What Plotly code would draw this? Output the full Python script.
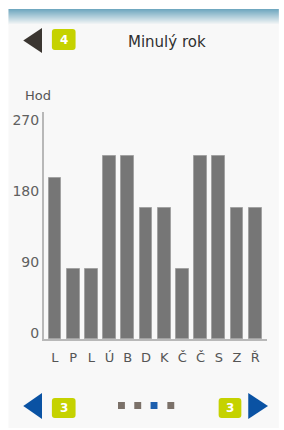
import plotly.graph_objects as go

# ---- data ----
months = ["L", "P", "L", "Ú", "B", "D", "K", "Č", "Č", "S", "Z", "Ř"]
hours = [204, 89, 89, 232, 232, 166, 166, 89, 232, 232, 166, 166]
y_ticks = [0, 90, 180, 270]
title_text = "Minulý rok"
unit_text = "Hod"
page_prev = "4"
page_nav = "3"

W, H = 284, 430
L, R, T, B = 41, 267, 112, 339  # plot area in pixels


def px(x):
    return (x - L) / (R - L)


def py(y):
    return (B - y) / (B - T)


fig = go.Figure()
fig.add_trace(go.Bar(
    x=list(range(len(months))), y=hours, width=0.70,
    marker=dict(color="#767676", line=dict(color="#a2a2a2", width=1)),
    hoverinfo="skip",
))

shapes = []
# panel background
shapes.append(dict(type="rect", xref="paper", yref="paper", layer="below",
                   x0=px(5), x1=px(279), y0=py(428), y1=py(9),
                   fillcolor="#f8f8f8", line=dict(width=0)))
# top gradient band
top_c = (112, 168, 192)
end_c = (248, 248, 248)
n = 16
for i in range(n):
    t = i / (n - 1)
    c = tuple(int(top_c[k] + (end_c[k] - top_c[k]) * t) for k in range(3))
    y0 = 9 + i * 1.0
    shapes.append(dict(type="rect", xref="paper", yref="paper", layer="below",
                       x0=px(5), x1=px(279), y0=py(y0 + 1.05), y1=py(y0),
                       fillcolor="rgb(%d,%d,%d)" % c, line=dict(width=0)))


def tri(xa, xb, ya, yb, pointing_left, color):
    if pointing_left:
        pts = [(xa, (ya + yb) / 2), (xb, ya), (xb, yb)]
    else:
        pts = [(xb, (ya + yb) / 2), (xa, ya), (xa, yb)]
    path = "M " + " L ".join("%f,%f" % (px(a), py(b)) for a, b in pts) + " Z"
    return dict(type="path", xref="paper", yref="paper", path=path,
                fillcolor=color, line=dict(width=0))


def rrect(xa, xb, ya, yb, r, color):
    p = []
    p.append("M %f,%f" % (px(xa + r), py(ya)))
    p.append("L %f,%f" % (px(xb - r), py(ya)))
    p.append("Q %f,%f %f,%f" % (px(xb), py(ya), px(xb), py(ya + r)))
    p.append("L %f,%f" % (px(xb), py(yb - r)))
    p.append("Q %f,%f %f,%f" % (px(xb), py(yb), px(xb - r), py(yb)))
    p.append("L %f,%f" % (px(xa + r), py(yb)))
    p.append("Q %f,%f %f,%f" % (px(xa), py(yb), px(xa), py(yb - r)))
    p.append("L %f,%f" % (px(xa), py(ya + r)))
    p.append("Q %f,%f %f,%f Z" % (px(xa), py(ya), px(xa + r), py(ya)))
    return dict(type="path", xref="paper", yref="paper", path=" ".join(p),
                fillcolor=color, line=dict(width=0))


green = "#c5d200"
blue = "#0a52a3"
# header
shapes.append(tri(20, 39, 28, 53, True, "#3b3631"))
shapes.append(rrect(49, 73, 29, 50, 3, green))
# footer
shapes.append(tri(20, 39, 393, 419, True, blue))
shapes.append(rrect(49, 73, 398, 418, 3, green))
shapes.append(rrect(218, 241, 398, 418, 3, green))
shapes.append(tri(248, 268, 393, 419, False, blue))
for i, xs in enumerate([116, 132.5, 149, 166]):
    shapes.append(dict(type="rect", xref="paper", yref="paper",
                       x0=px(xs), x1=px(xs + 7), y0=py(409), y1=py(402),
                       fillcolor=("#1d5fae" if i == 2 else "#7b7169"),
                       line=dict(width=0)))


def ann(text, x, y, size, color, bold=False):
    return dict(text=("<b>%s</b>" % text) if bold else text,
                x=px(x), y=py(y), xref="paper", yref="paper",
                xanchor="center", yanchor="middle", showarrow=False,
                font=dict(size=size, color=color, family="DejaVu Sans"))


annotations = [
    ann(title_text, 166, 42, 15, "#2f2f2f"),
    ann(page_prev, 61, 39.5, 12, "white", True),
    ann(page_nav, 61, 408, 12, "white", True),
    ann(page_nav, 229.5, 408, 12, "white", True),
    ann(unit_text, 35, 95, 13, "#555555"),
]

fig.update_layout(
    width=W, height=H,
    margin=dict(l=L, r=W - R, t=T, b=H - B, pad=0),
    paper_bgcolor="white", plot_bgcolor="rgba(0,0,0,0)",
    showlegend=False, bargap=0,
    shapes=shapes, annotations=annotations,
    font=dict(family="DejaVu Sans", color="#555555"),
)
fig.update_xaxes(
    range=[-0.6, 11.65], tickmode="array", tickvals=list(range(len(months))),
    ticktext=months, showgrid=False, zeroline=False, showline=True,
    linecolor="#b8b8b8", linewidth=2, ticks="", tickfont=dict(size=13, color="#555555"),
    ticklabelstandoff=5, fixedrange=True,
)
fig.update_yaxes(
    range=[0, 288], tickmode="array", tickvals=y_ticks,
    ticktext=[str(v) for v in y_ticks], showgrid=False, zeroline=False,
    showline=True, linecolor="#b8b8b8", linewidth=2, ticks="",
    tickfont=dict(size=14, color="#606060"), ticklabelshift=-6, fixedrange=True,
)

fig.write_html("out.html", config=dict(displayModeBar=False))
with open("out.html", encoding="utf-8") as f:
    html = f.read()
html = html.replace("<head>", "<head><style>html,body{margin:0;padding:0;overflow:hidden;}</style>", 1)
with open("out.html", "w", encoding="utf-8") as f:
    f.write(html)
